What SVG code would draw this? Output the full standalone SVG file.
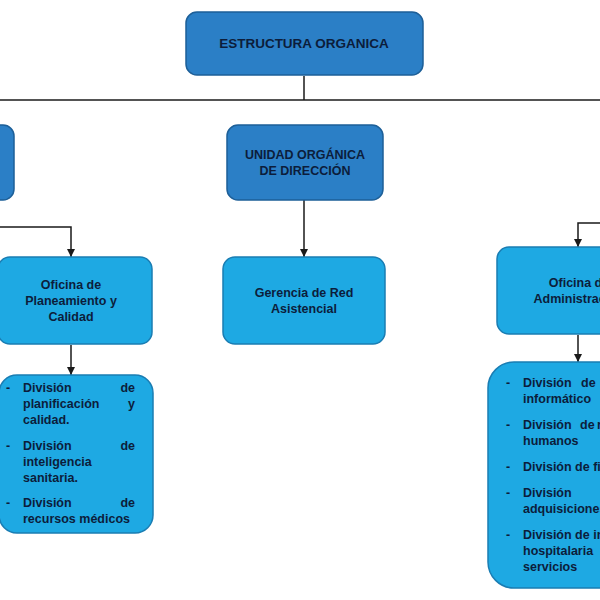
<svg xmlns="http://www.w3.org/2000/svg" width="600" height="600" viewBox="0 0 600 600">
<style>
.dark{fill:#2b7fc6;stroke:#1d5f98;stroke-width:1.5}
.light{fill:#1ea9e3;stroke:#1a7db3;stroke-width:1.5}
text{font-family:"Liberation Sans",Arial,sans-serif;font-weight:bold;font-size:12.5px;fill:#0c1d3b}
.t{font-size:13.5px}
.c{text-anchor:middle}
.e{text-anchor:end}
.conn{stroke:#1a1a1a;stroke-width:1.5;fill:none}
</style>
<defs>
<marker id="arr" viewBox="0 0 10 10" refX="10" refY="5" markerWidth="9" markerHeight="8" markerUnits="userSpaceOnUse" orient="auto">
<path d="M0,0 L10,5 L0,10 z" fill="#1a1a1a"/>
</marker>
</defs>
<rect width="600" height="600" fill="#fff"/>
<g id="connectors">
<path class="conn" d="M304,76 V100"/>
<path class="conn" d="M0,100 H600"/>
<path class="conn" d="M304,200 V257" marker-end="url(#arr)"/>
<path class="conn" d="M0,227 H71 V257" marker-end="url(#arr)"/>
<path class="conn" d="M71,345 V375" marker-end="url(#arr)"/>
<path class="conn" d="M600,223 H578 V247" marker-end="url(#arr)"/>
<path class="conn" d="M578,335 V362" marker-end="url(#arr)"/>
</g>
<g id="estructura">
<rect class="dark" x="186" y="12" width="237" height="63" rx="11"/>
<text class="c t" x="304" y="48">ESTRUCTURA ORGANICA</text>
</g>
<g id="izquierda">
<rect class="dark" x="-40" y="125" width="54" height="75" rx="11"/>
</g>
<g id="unidad">
<rect class="dark" x="227" y="125" width="156" height="75" rx="11"/>
<text class="c" x="305" y="159">UNIDAD ORGÁNICA</text>
<text class="c" x="305" y="175">DE DIRECCIÓN</text>
</g>
<g id="gerencia">
<rect class="light" x="223" y="257" width="162" height="87" rx="12"/>
<text class="c" x="304" y="297">Gerencia de Red</text>
<text class="c" x="304" y="313">Asistencial</text>
</g>
<g id="planeamiento">
<rect class="light" x="-2" y="257" width="154" height="87" rx="12"/>
<text class="c" x="71" y="289">Oficina de</text>
<text class="c" x="71" y="305">Planeamiento y</text>
<text class="c" x="71" y="321">Calidad</text>
</g>
<g id="div-planeamiento">
<rect class="light" x="-1" y="375" width="154" height="158" rx="18"/>
<text x="6" y="392">-</text>
<text x="23" y="392">División</text><text class="e" x="135" y="392">de</text>
<text x="23" y="408">planificación</text><text class="e" x="135" y="408">y</text>
<text x="23" y="424">calidad.</text>
<text x="6" y="450">-</text>
<text x="23" y="450">División</text><text class="e" x="135" y="450">de</text>
<text x="23" y="466">inteligencia</text>
<text x="23" y="482">sanitaria.</text>
<text x="6" y="507">-</text>
<text x="23" y="507">División</text><text class="e" x="135" y="507">de</text>
<text x="23" y="523">recursos médicos</text>
</g>
<g id="administracion">
<rect class="light" x="497" y="247" width="162" height="87" rx="12"/>
<text class="c" x="579" y="287">Oficina de</text>
<text class="c" x="579" y="303">Administración</text>
</g>
<g id="div-administracion">
<rect class="light" x="488" y="362" width="190" height="226" rx="26"/>
<text x="506" y="387">-</text>
<text x="523" y="387">División</text><text x="581" y="387">de</text>
<text x="523" y="403">informático</text>
<text x="506" y="429">-</text>
<text x="523" y="429">División</text><text x="580" y="429">de</text><text x="597" y="429">recursos</text>
<text x="523" y="445">humanos</text>
<text x="506" y="471">-</text>
<text x="523" y="471">División de finanzas</text>
<text x="506" y="497">-</text>
<text x="523" y="497">División</text>
<text x="523" y="513">adquisiciones</text>
<text x="506" y="539">-</text>
<text x="523" y="539">División de infraestructura</text>
<text x="523" y="555">hospitalaria</text>
<text x="523" y="571">servicios</text>
</g>
</svg>
